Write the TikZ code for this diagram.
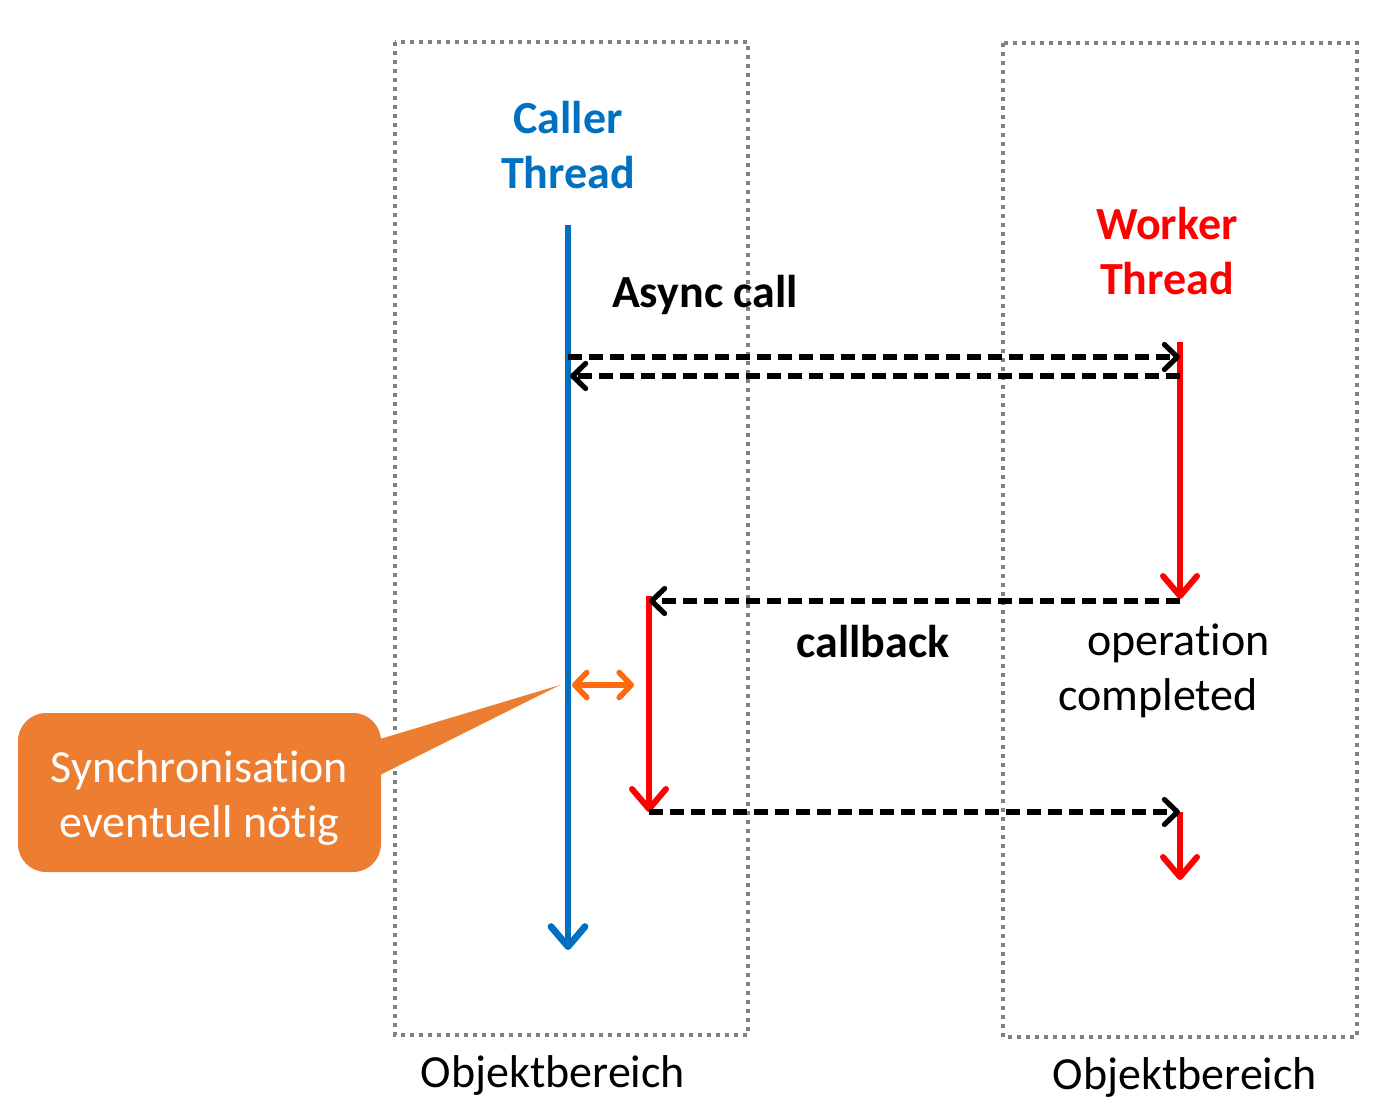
\documentclass[tikz,border=0pt]{standalone}
\usepackage{fontspec}
\setmainfont{Carlito}[Ligatures=NoCommon]
\usetikzlibrary{arrows.meta}

\definecolor{callerblue}{HTML}{0070C0}
\definecolor{workerred}{HTML}{FF0000}
\definecolor{zonegray}{HTML}{808080}
\definecolor{syncorange}{HTML}{ED7D31}
\definecolor{hintorange}{HTML}{FF6A10}

\def\xCaller{568}
\def\xWorker{1180}
\def\xBack{649}

\begin{document}
\begin{tikzpicture}[x=0.5pt, y=-0.5pt, font=\fontsize{23}{27.5}\selectfont,
    zone/.style={draw=zonegray, line width=2pt, dash pattern=on 2pt off 2.5pt},
    lifeline/.style={line width=3.4pt, -{Straight Barb[length=10pt,width=17pt,line cap=round,line join=round]}},
    worker/.style={draw=workerred, line width=3pt, -{Straight Barb[length=10pt,width=17pt,line cap=round,line join=round]}},
    msg/.style={line width=2.6pt, dash pattern=on 7pt off 3.5pt, -{Straight Barb[length=6.5pt,width=12.5pt,line cap=round,line join=round]}},
    label/.style={inner sep=0pt, align=center}]
  \useasboundingbox (0,0) rectangle (1390,1118);

  % object areas
  \draw[zone] (395,42) rectangle (748,1035);
  \draw[zone] (1003,43) rectangle (1357,1037);
  \node[label] (area1) at (553,1075) {Objektbereich};
  \node[label] (area2) at (1185,1077) {Objektbereich};

  % threads
  \node[label, text=callerblue, font=\fontsize{23}{27.5}\selectfont\bfseries] (caller) at (\xCaller,145) {Caller\\Thread};
  \node[label, text=workerred, font=\fontsize{23}{27.5}\selectfont\bfseries] (workerlbl) at (1167,251) {Worker\\Thread};

  \coordinate (c0) at (\xCaller,225);
  \coordinate (c1) at (\xCaller,950);
  \coordinate (ca) at (\xCaller,357);
  \coordinate (cb) at (\xCaller,376);
  \coordinate (w0) at (\xWorker,342);
  \coordinate (wa) at (\xWorker,357);
  \coordinate (wb) at (\xWorker,376);
  \coordinate (w1) at (\xWorker,601);
  \coordinate (b0) at (\xBack,596);
  \coordinate (bt) at (\xBack,601);
  \coordinate (b1) at (\xBack,812);
  \coordinate (w2) at (\xWorker,812);
  \coordinate (w3) at (\xWorker,880);

  \draw[lifeline, draw=callerblue] (c0) -- (c1);
  \draw[worker] (w0) -- ([yshift=1pt]w1);
  \draw[worker] (b0) -- (b1);
  \draw[worker] (w2) -- (w3);

  % messages
  \draw[msg] (ca) -- (wa);
  \draw[msg] (wb) -- ([xshift=1pt]cb);
  \draw[msg] (w1) -- (bt);
  \draw[msg] (b1) -- (w2);

  \node[label, font=\fontsize{23}{27.5}\selectfont\bfseries] (async) at (705,295) {Async call};
  \node[label, font=\fontsize{23}{27.5}\selectfont\bfseries] (cbk) at (873,642) {callback};
  \node[label] (done) at (1158,671) {\hspace*{0.9em}operation\\completed};

  % synchronisation hint
  \coordinate (s0) at (572,685);
  \coordinate (s1) at (634,685);
  \draw[hintorange, line width=2.8pt, {Straight Barb[length=6pt,width=12.5pt,line cap=round,line join=round]}-{Straight Barb[length=6pt,width=12.5pt,line cap=round,line join=round]}] (s0) -- (s1);

  \coordinate (synctip) at (560,685);
  \fill[syncorange] (370,742) -- (synctip) -- (370,780) -- cycle;
  \node[label, fill=syncorange, rounded corners=14pt, minimum width=181.5pt, minimum height=79.5pt] (sync) at (199.5,792.5) {};
  \node[label, text=white] (synctext) at ([yshift=-2.5pt]sync.center) {Synchronisation\\eventuell nötig};
\end{tikzpicture}
\end{document}
